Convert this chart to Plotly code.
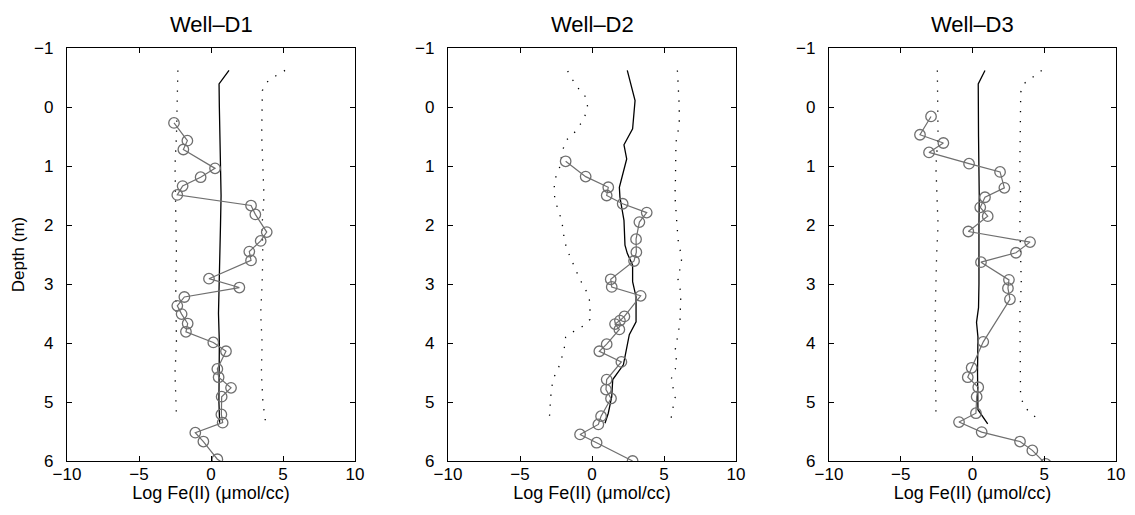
import plotly.graph_objects as go

# ---------------- data ----------------
wells = ["Well\u2013D1", "Well\u2013D2", "Well\u2013D3"]

# Measured Log Fe(II) (circles)
d1_depth = [0.27, 0.57, 0.72, 1.04, 1.19, 1.34, 1.49, 1.67, 1.82, 2.12, 2.27, 2.45, 2.60, 2.91, 3.06, 3.22,
            3.37, 3.51, 3.67, 3.81, 3.99, 4.14, 4.44, 4.58, 4.76, 4.91, 5.21, 5.35, 5.52, 5.67, 5.97, 6.15]
d1_fe = [-2.57, -1.64, -1.92, 0.28, -0.72, -1.97, -2.34, 2.78, 3.08, 3.87, 3.45, 2.66, 2.78, -0.14, 1.97, -1.85,
         -2.34, -2.04, -1.62, -1.74, 0.16, 1.04, 0.44, 0.53, 1.39, 0.74, 0.72, 0.81, -1.09, -0.53, 0.44, 1.6]

d2_depth = [0.92, 1.18, 1.36, 1.50, 1.64, 1.79, 1.95, 2.24, 2.46, 2.61, 2.92, 3.05, 3.20, 3.55, 3.62, 3.68,
            3.77, 4.02, 4.14, 4.32, 4.62, 4.79, 4.94, 5.24, 5.38, 5.55, 5.69, 6.0]
d2_fe = [-1.83, -0.44, 1.13, 1.02, 2.13, 3.80, 3.29, 3.06, 3.08, 2.92, 1.30, 1.37, 3.38, 2.25, 1.94, 1.60,
         1.90, 1.02, 0.51, 2.04, 1.02, 0.97, 1.32, 0.63, 0.44, -0.83, 0.32, 2.82]

d3_depth = [0.16, 0.47, 0.61, 0.77, 0.96, 1.10, 1.37, 1.53, 1.70, 1.85, 2.11, 2.29, 2.47, 2.63, 2.93, 3.07,
            3.26, 3.98, 4.42, 4.58, 4.75, 4.91, 5.19, 5.34, 5.51, 5.67, 5.82, 6.05]
d3_fe = [-2.89, -3.66, -2.03, -3.03, -0.24, 1.92, 2.22, 0.87, 0.54, 1.06, -0.29, 4.01, 3.03, 0.59, 2.54, 2.47,
         2.61, 0.75, -0.06, -0.33, 0.40, 0.29, 0.24, -0.94, 0.64, 3.31, 4.17, 5.1]

# Mean profile (solid black)
d1_mean_depth = [-0.62, -0.39, 0.0, 0.5, 1.0, 1.5, 2.0, 2.5, 3.0, 3.5, 4.0, 4.5, 5.0, 5.35]
d1_mean = [1.25, 0.56, 0.58, 0.62, 0.67, 0.70, 0.66, 0.62, 0.58, 0.52, 0.58, 0.55, 0.55, 0.60]

d2_mean_depth = [-0.62, -0.11, 0.37, 0.64, 0.88, 1.36, 1.53, 1.92, 2.34, 2.48, 2.68, 2.96, 3.22, 3.64, 3.86,
                 4.12, 4.37, 4.62, 4.91, 5.19, 5.36]
d2_mean = [2.45, 2.99, 2.82, 2.22, 2.41, 1.90, 1.94, 2.22, 2.29, 2.45, 2.82, 2.82, 3.06, 3.06, 2.59,
           2.36, 2.18, 1.44, 1.37, 1.13, 0.90]

d3_mean_depth = [-0.62, -0.39, 0.5, 1.0, 1.5, 2.0, 2.5, 3.0, 3.4, 3.65, 3.9, 4.5, 5.13, 5.37]
d3_mean = [0.87, 0.40, 0.42, 0.45, 0.47, 0.45, 0.47, 0.45, 0.42, 0.28, 0.38, 0.35, 0.38, 1.06]

# Lower envelope (dotted)
d1_lo_depth = [-0.62, 0.5, 1.0, 1.5, 2.0, 2.5, 3.0, 3.5, 4.0, 4.5, 5.0, 5.25]
d1_lo = [-2.3, -2.4, -2.5, -2.45, -2.4, -2.4, -2.45, -2.45, -2.4, -2.5, -2.45, -2.4]

d2_lo_depth = [-0.61, -0.46, -0.30, -0.17, 0.0, 0.18, 0.32, 0.46, 0.57, 0.74, 1.05, 1.22, 1.41, 1.58, 1.75,
               1.92, 2.09, 2.26, 2.43, 2.6, 2.76, 2.93, 3.07, 3.24, 3.41, 3.6, 3.71, 3.80, 3.90, 4.08, 4.26,
               4.43, 4.58, 4.75, 4.92, 5.10, 5.28]
d2_lo = [-1.69, -1.34, -0.90, -0.44, -0.30, -0.53, -0.88, -1.30, -1.83, -2.04, -2.27, -2.57, -2.64, -2.57, -2.34,
         -2.11, -2.0, -1.92, -1.71, -1.41, -1.18, -0.83, -0.49, -0.19, -0.14, -0.14, -0.60, -1.25, -1.83, -1.92,
         -2.11, -2.34, -2.64, -2.80, -2.87, -2.92, -2.96]

d3_lo_depth = [-0.62, 0.5, 1.0, 1.5, 2.0, 2.5, 3.0, 3.5, 4.0, 4.5, 5.0, 5.27]
d3_lo = [-2.45, -2.4, -2.55, -2.45, -2.4, -2.5, -2.55, -2.6, -2.55, -2.6, -2.55, -2.55]

# Upper envelope (dotted)
d1_hi_depth = [-0.62, -0.53, -0.42, -0.28, 0.5, 1.0, 1.5, 2.0, 2.5, 3.0, 3.5, 4.0, 4.5, 5.0, 5.36]
d1_hi = [5.14, 4.51, 3.87, 3.57, 3.52, 3.6, 3.68, 3.55, 3.6, 3.55, 3.45, 3.55, 3.5, 3.6, 3.8]

d2_hi_depth = [-0.62, 0.0, 0.3, 0.6, 1.3, 1.5, 2.0, 2.3, 2.54, 2.7, 2.88, 3.05, 3.24, 3.62, 3.79, 3.95,
               4.10, 4.27, 4.44, 4.61, 4.76, 4.93, 5.1, 5.27]
d2_hi = [5.93, 6.06, 6.06, 5.83, 5.79, 5.76, 5.9, 6.0, 6.23, 6.18, 5.93, 6.11, 6.16, 6.11, 6.02, 5.9,
         5.79, 5.85, 5.79, 5.5, 5.65, 5.78, 5.62, 5.5]

d3_hi_depth = [-0.62, -0.51, -0.40, -0.25, 0.5, 1.0, 1.5, 2.0, 2.5, 3.0, 3.5, 4.0, 4.5, 4.9, 5.07, 5.2, 5.31]
d3_hi = [4.82, 4.24, 3.61, 3.36, 3.3, 3.3, 3.35, 3.3, 3.35, 3.4, 3.3, 3.3, 3.3, 3.35, 3.59, 4.08, 4.70]

x_ticks = [-10, -5, 0, 5, 10]
y_ticks = [-1, 0, 1, 2, 3, 4, 5, 6]
x_title = "Log Fe(II) (\u03bcmol/cc)"
y_title = "Depth (m)"

# ---------------- figure ----------------
# The page body has an 8px margin, so the figure is offset by 8px.
OFF = 8
W, H = 1135 - 2 * OFF, 515 - 2 * OFF
FONT = "Liberation Sans, Arial, Helvetica, sans-serif"
x_px = [(67, 355), (448, 736), (829, 1116)]   # window pixels
y_top, y_bot = 48, 461
ydom = [1 - (y_bot - OFF) / H, 1 - (y_top - OFF) / H]

panels = [
    (d1_depth, d1_fe, d1_mean_depth, d1_mean, d1_lo_depth, d1_lo, d1_hi_depth, d1_hi),
    (d2_depth, d2_fe, d2_mean_depth, d2_mean, d2_lo_depth, d2_lo, d2_hi_depth, d2_hi),
    (d3_depth, d3_fe, d3_mean_depth, d3_mean, d3_lo_depth, d3_lo, d3_hi_depth, d3_hi),
]

fig = go.Figure()
dot_line = dict(color="black", width=1.3, dash="1.3px,8.7px")
gray = "#6f6f6f"

for i, (dd, fe, md, mv, ld, lv, hd, hv) in enumerate(panels):
    xa = "x" if i == 0 else f"x{i+1}"
    ya = "y" if i == 0 else f"y{i+1}"
    fig.add_trace(go.Scatter(x=lv, y=ld, mode="lines", line=dot_line, xaxis=xa, yaxis=ya,
                             showlegend=False, hoverinfo="skip"))
    fig.add_trace(go.Scatter(x=hv, y=hd, mode="lines", line=dot_line, xaxis=xa, yaxis=ya,
                             showlegend=False, hoverinfo="skip"))
    fig.add_trace(go.Scatter(x=mv, y=md, mode="lines", line=dict(color="black", width=1.3),
                             xaxis=xa, yaxis=ya, showlegend=False))
    fig.add_trace(go.Scatter(x=fe, y=dd, mode="lines+markers",
                             line=dict(color=gray, width=1.2),
                             marker=dict(symbol="circle-open", size=10.5, color=gray,
                                         line=dict(color=gray, width=1.3)),
                             xaxis=xa, yaxis=ya, showlegend=False))

TICK_SIZE = 17
axis_common = dict(showline=True, linecolor="black", linewidth=1.2, mirror="ticks",
                   ticks="inside", ticklen=5, tickcolor="black", tickwidth=1,
                   showgrid=False, zeroline=False, automargin=False,
                   tickfont=dict(family=FONT, size=TICK_SIZE, color="black"))

layout = dict(width=W, height=H, margin=dict(l=0, r=0, t=0, b=0),
              paper_bgcolor="white", plot_bgcolor="white",
              font=dict(family=FONT, color="black"))
annotations = []
for i, (a, b) in enumerate(x_px):
    xkey = "xaxis" if i == 0 else f"xaxis{i+1}"
    ykey = "yaxis" if i == 0 else f"yaxis{i+1}"
    ya = "y" if i == 0 else f"y{i+1}"
    xa = "x" if i == 0 else f"x{i+1}"
    layout[xkey] = dict(axis_common, domain=[(a - OFF) / W, (b - OFF) / W], range=[-10, 10],
                        tickvals=x_ticks, anchor=ya, ticklabelstandoff=-3,
                        title=dict(text=x_title, font=dict(family=FONT, size=18), standoff=0))
    ydict = dict(axis_common, domain=ydom, range=[6, -1], tickvals=y_ticks, anchor=xa,
                 ticklabelstandoff=9)
    if i == 0:
        ydict["title"] = dict(text=y_title, font=dict(family=FONT, size=17), standoff=5)
    layout[ykey] = ydict
    annotations.append(dict(text=wells[i], x=((a + b) / 2 - OFF) / W, y=1 - (24 - OFF) / H,
                            xref="paper", yref="paper",
                            xanchor="center", yanchor="middle", showarrow=False,
                            font=dict(family=FONT, size=22, color="black")))
layout["annotations"] = annotations
fig.update_layout(**layout)

fig.write_html("out.html")
